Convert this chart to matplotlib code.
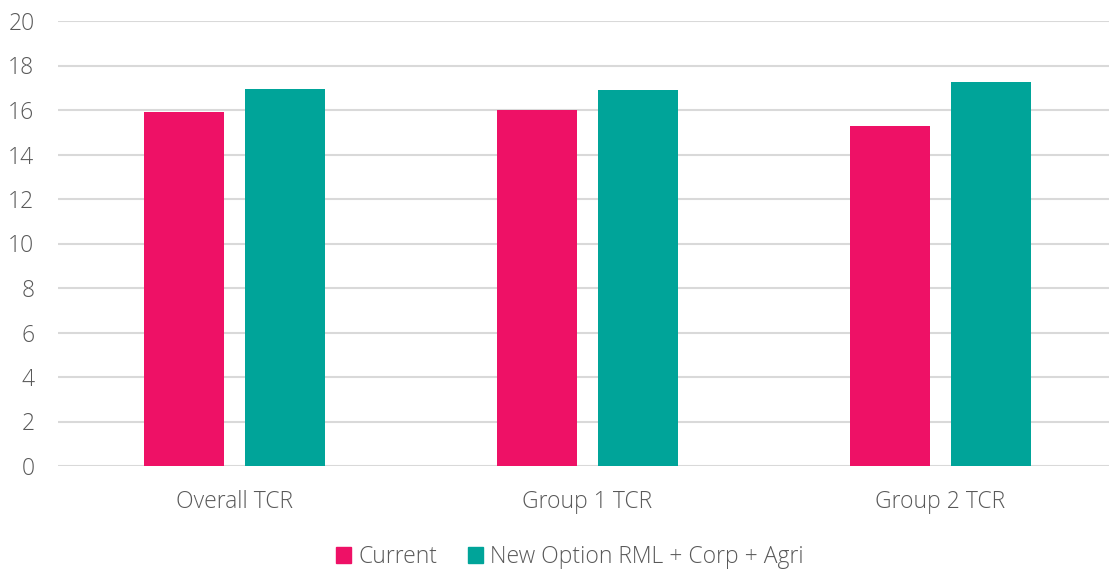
import numpy as np
import matplotlib.pyplot as plt
from matplotlib.patches import Patch

# TCR comparison, current vs new option
categories = ["Overall TCR", "Group 1 TCR", "Group 2 TCR"]
current = [15.9, 16.0, 15.3]
new_option = [16.94, 16.92, 17.24]
series_names = ["Current", "New Option RML + Corp + Agri"]

pink = "#EE1166"
teal = "#00A499"
text_grey = "#595959"

plt.rcParams['font.family'] = ['Open Sans', 'DejaVu Sans']
plt.rcParams['font.weight'] = 'light'

fig = plt.figure(figsize=(11.09, 5.72), dpi=100)
ax = fig.add_axes([58 / 1109, 106 / 572, 1 - 58 / 1109, 445 / 572])

x = np.arange(len(categories))
w = 0.226
off = 0.143
ax.bar(x - off, current, w, color=pink, zorder=3)
ax.bar(x + off, new_option, w, color=teal, zorder=3)

ax.set_ylim(0, 20)
ax.set_yticks(np.arange(0, 21, 2))
ax.set_xlim(-0.5, (1109 - 58) / 353 - 0.5)
ax.set_xticks(x)
ax.set_xticklabels(categories)

ax.grid(axis='y', color='#D9D9D9', linewidth=1.5, zorder=0)
for s in ax.spines.values():
    s.set_visible(False)
ax.tick_params(axis='both', length=0, labelsize=16.5, colors=text_grey)
ax.tick_params(axis='y', pad=17)
ax.tick_params(axis='x', pad=17)

handles = [Patch(color=pink), Patch(color=teal)]
fig.legend(handles, series_names, loc='center', bbox_to_anchor=(0.514, 1 - 557 / 572),
           ncol=2, frameon=False, fontsize=16.5, labelcolor=text_grey,
           handlelength=0.66, handleheight=0.66, handletextpad=0.3, columnspacing=1.35)

fig.savefig("out.png", dpi=100)
